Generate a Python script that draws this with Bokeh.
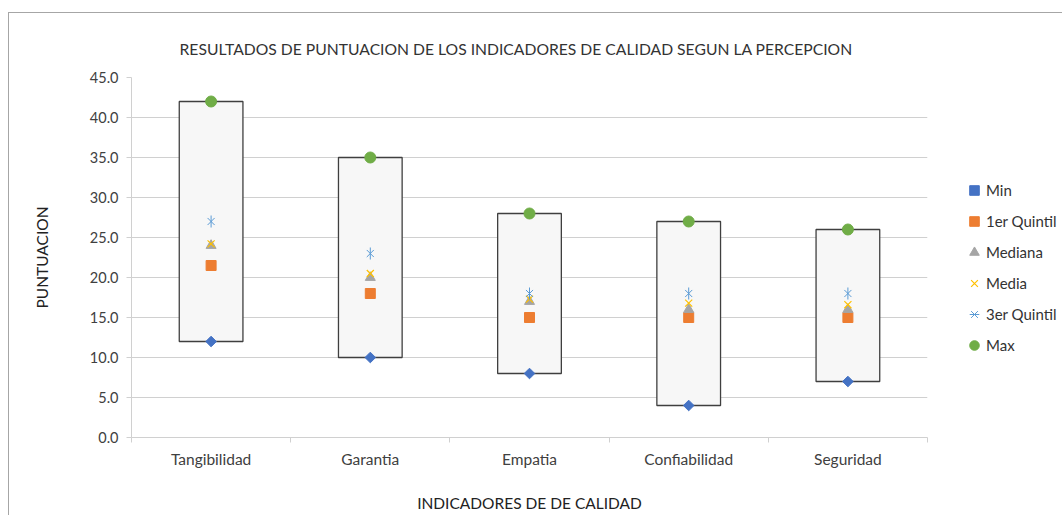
from bokeh.plotting import figure
from bokeh.models import (Range1d, FixedTicker, Legend, LegendItem, ColumnDataSource,
                          NumeralTickFormatter)
from bokeh.embed import file_html
from bokeh.resources import INLINE

categories = ["Tangibilidad", "Garantia", "Empatia", "Confiabilidad", "Seguridad"]
min_vals = [12, 10, 8, 4, 7]
q1_vals = [21.5, 18, 15, 15, 15]
median_vals = [24, 20, 17, 16, 16]
mean_vals = [24.2, 20.5, 17.3, 16.8, 16.6]
q3_vals = [27, 23, 18, 18, 18]
max_vals = [42, 35, 28, 27, 26]
y_ticks = [0, 5, 10, 15, 20, 25, 30, 35, 40, 45]

FONT = "Lato"
xs = [i + 0.5 for i in range(len(categories))]
src = ColumnDataSource(dict(x=xs, mn=min_vals, q1=q1_vals, med=median_vals,
                            mean=mean_vals, q3=q3_vals, mx=max_vals))

p = figure(width=1054, height=502, output_backend="svg", toolbar_location=None,
           x_range=Range1d(0, len(categories)), y_range=Range1d(0, 45),
           frame_width=796, frame_height=360,
           min_border_left=122, min_border_right=136, min_border_top=64, min_border_bottom=78,
           outline_line_color=None, border_fill_color="white", background_fill_color="white",
           styles={"border-left": "1px solid #a6a6a6", "border-top": "1px solid #a6a6a6",
                   "margin-top": "12px", "margin-left": "8px"})

p.title.text = "RESULTADOS DE PUNTUACION DE LOS INDICADORES DE CALIDAD SEGUN LA PERCEPCION"
p.title.align = "left"
p.title.offset = 48
p.title.text_font = FONT
p.title.text_font_size = "15.7px"
p.title.text_font_style = "normal"
p.title.text_color = "#333333"
p.title.standoff = 40

# boxes
p.vbar(x="x", bottom="mn", top="mx", width=0.4, source=src,
       fill_color="#F7F7F7", line_color="#3f3f3f", line_width=1.3)

r_min = p.scatter("x", "mn", source=src, marker="square", size=7.5, angle=0.7854, color="#4472C4")
r_q1 = p.scatter("x", "q1", source=src, marker="square", size=10, color="#ED7D31")
r_med = p.scatter("x", "med", source=src, marker="triangle", size=10, color="#A5A5A5")
r_mean = p.scatter("x", "mean", source=src, marker="x", size=10, line_color="#FFC000", line_width=1.2)
r_q3a = p.scatter("x", "q3", source=src, marker="x", size=10, line_color="#5B9BD5", line_width=1)
r_q3b = p.scatter("x", "q3", source=src, marker="dash", size=12, angle=1.5708,
                  line_color="#5B9BD5", line_width=1)
r_max = p.scatter("x", "mx", source=src, marker="circle", size=11, color="#70AD47")

# axes
p.yaxis.ticker = FixedTicker(ticks=y_ticks)
p.yaxis.formatter = NumeralTickFormatter(format="0.0")
p.yaxis.axis_label = "PUNTUACION"
p.yaxis.axis_label_text_font = FONT
p.yaxis.axis_label_text_font_size = "15.5px"
p.yaxis.axis_label_text_font_style = "normal"
p.yaxis.axis_label_text_color = "#222222"
p.yaxis.axis_label_standoff = 36
p.yaxis.major_label_text_font = FONT
p.yaxis.major_label_text_font_size = "14.5px"
p.yaxis.major_label_text_color = "#404040"
p.yaxis.major_label_standoff = 8
p.yaxis.axis_line_color = "#d0d0d0"
p.yaxis.major_tick_line_color = "#d0d0d0"
p.yaxis.major_tick_out = 5
p.yaxis.major_tick_in = 0
p.yaxis.minor_tick_line_color = None

p.xaxis.ticker = FixedTicker(ticks=xs, minor_ticks=list(range(len(categories) + 1)))
p.xaxis.major_label_overrides = {x: c for x, c in zip(xs, categories)}
p.xaxis.axis_label = "INDICADORES DE DE CALIDAD"
p.xaxis.axis_label_text_font = FONT
p.xaxis.axis_label_text_font_size = "15.5px"
p.xaxis.axis_label_text_font_style = "normal"
p.xaxis.axis_label_text_color = "#222222"
p.xaxis.axis_label_standoff = 23
p.xaxis.major_label_text_font = FONT
p.xaxis.major_label_text_font_size = "15.5px"
p.xaxis.major_label_text_color = "#404040"
p.xaxis.major_label_standoff = 7
p.xaxis.axis_line_color = "#d0d0d0"
p.xaxis.major_tick_line_color = None
p.xaxis.major_tick_out = 0
p.xaxis.major_tick_in = 0
p.xaxis.minor_tick_line_color = "#d0d0d0"
p.xaxis.minor_tick_out = 5
p.xaxis.minor_tick_in = 0

p.xgrid.grid_line_color = None
p.ygrid.grid_line_color = "#d0d0d0"
p.ygrid.grid_line_width = 1

legend = Legend(items=[
    LegendItem(label="Min", renderers=[r_min]),
    LegendItem(label="1er Quintil", renderers=[r_q1]),
    LegendItem(label="Mediana", renderers=[r_med]),
    LegendItem(label="Media", renderers=[r_mean]),
    LegendItem(label="3er Quintil", renderers=[r_q3a, r_q3b]),
    LegendItem(label="Max", renderers=[r_max]),
], location=(35, 80), border_line_color=None, background_fill_alpha=0,
    glyph_width=24, glyph_height=24, label_standoff=0, spacing=7, padding=0, margin=0,
    label_text_font=FONT, label_text_font_size="15px", label_text_color="#333333")
p.add_layout(legend, "right")

open("out.html", "w").write(file_html(p, INLINE))
